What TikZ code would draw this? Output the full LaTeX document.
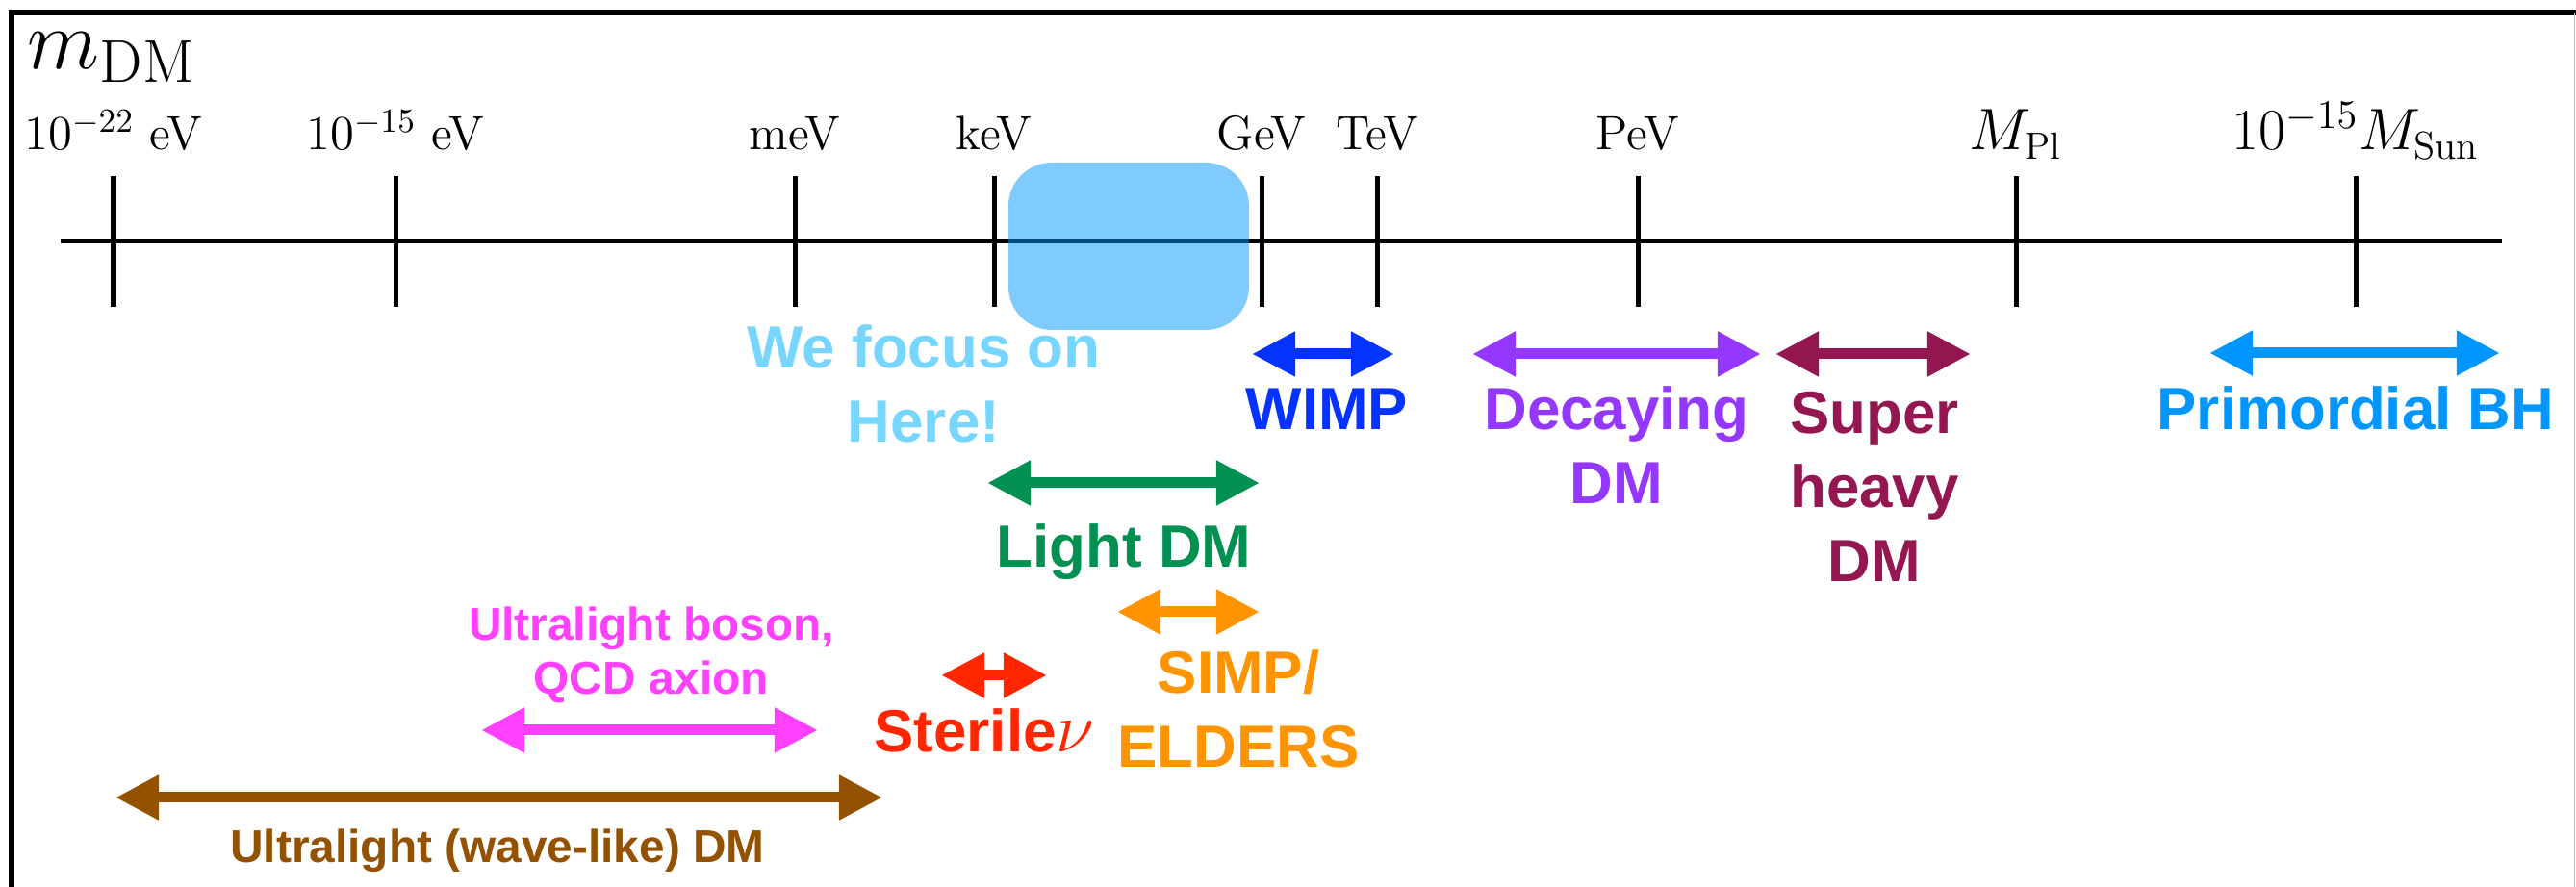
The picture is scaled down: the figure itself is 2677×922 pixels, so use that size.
\documentclass[tikz,border=0pt]{standalone}
\usepackage{fontspec}
\newfontfamily\lblfont{Liberation Sans}
\usetikzlibrary{arrows.meta}

\definecolor{skycol}{HTML}{76D6FF}
\definecolor{aquacol}{HTML}{0096FF}
\definecolor{wimpcol}{HTML}{0433FF}
\definecolor{decaycol}{HTML}{9437FF}
\definecolor{heavycol}{HTML}{941751}
\definecolor{lightcol}{HTML}{009051}
\definecolor{simpcol}{HTML}{FF9300}
\definecolor{sterilecol}{HTML}{FF2600}
\definecolor{bosoncol}{HTML}{FF40FF}
\definecolor{wavecol}{HTML}{945200}

\tikzset{
  masstick/.style={line width=0.05cm},
  dmrange/.style={line width=0.11cm,
    {Triangle[length=0.45cm,width=0.44cm]}-{Triangle[length=0.45cm,width=0.44cm]}},
  ticklabel/.style={anchor=base, inner sep=0pt, font=\fontsize{14.2}{17}\selectfont},
  biglabel/.style={anchor=base, inner sep=0pt, align=center,
    font=\lblfont\bfseries\fontsize{17.6}{21.9}\selectfont},
  smalllabel/.style={anchor=base, inner sep=0pt, align=center,
    font=\lblfont\bfseries\fontsize{13.6}{16.2}\selectfont}
}

\begin{document}
\begin{tikzpicture}[x=0.01cm, y=-0.01cm]
    \useasboundingbox (0,0) rectangle (2677,922);

    % frame
    \draw[line width=0.06cm] (12,922) -- (12,13) -- (2677,13);
    \draw[black!25, line width=0.01cm] (2675,13) -- (2675,922);

    \node[anchor=base west, inner sep=0pt, font=\fontsize{25.5}{30}\selectfont] (mdm) at (28,72) {$m_{\mathrm{DM}}$};

    % mass axis
    \coordinate (axL) at (63,251);
    \coordinate (axR) at (2600,251);
    \draw[line width=0.05cm] (axL) -- (axR);
    \foreach \nm/\x/\lab in {t1/118/{$10^{-22}$ eV}, t2/411/{$10^{-15}$ eV}, t3/826/meV,
        t4/1033/keV, t5/1311/GeV, t6/1431/TeV, t7/1702/PeV,
        t8/2095/{\fontsize{16}{19}\selectfont$M_{\mathrm{Pl}}$},
        t9/2448/{\fontsize{16.5}{19}\selectfont$10^{-15}M_{\mathrm{Sun}}$}} {
        \draw[masstick] (\x,183) -- (\x,319);
        \node[ticklabel] (\nm) at (\x,156) {\lab};
    }

    \fill[aquacol, fill opacity=0.5, rounded corners=0.45cm] (1048,169) rectangle (1298,343);
    \node[biglabel, text=skycol] (focus) at (960,460) {We focus on\\Here!};

    % ranges
    \coordinate (wimpL) at (1301,368);   \coordinate (wimpR) at (1449,368);
    \coordinate (decayL) at (1530,368);  \coordinate (decayR) at (1830,368);
    \coordinate (heavyL) at (1845,368);  \coordinate (heavyR) at (2048,368);
    \coordinate (pbhL) at (2296,367);    \coordinate (pbhR) at (2598,367);
    \coordinate (lightL) at (1026,502);  \coordinate (lightR) at (1309,502);
    \coordinate (simpL) at (1161,636);   \coordinate (simpR) at (1309,636);
    \coordinate (sterileL) at (978,702); \coordinate (sterileR) at (1088,702);
    \coordinate (bosonL) at (500,759);   \coordinate (bosonR) at (850,759);
    \coordinate (waveL) at (120,829);    \coordinate (waveR) at (917,829);

    \draw[dmrange, wimpcol] (wimpL) -- (wimpR);
    \draw[dmrange, decaycol] (decayL) -- (decayR);
    \draw[dmrange, heavycol] (heavyL) -- (heavyR);
    \draw[dmrange, aquacol] (pbhL) -- (pbhR);
    \draw[dmrange, lightcol] (lightL) -- (lightR);
    \draw[dmrange, simpcol] (simpL) -- (simpR);
    \draw[dmrange, sterilecol] (sterileL) -- (sterileR);
    \draw[dmrange, bosoncol] (bosonL) -- (bosonR);
    \draw[dmrange, wavecol] (waveL) -- (waveR);

    \node[biglabel, text=wimpcol] (wimp) at (1379,447) {WIMP};
    \node[biglabel, text=decaycol] (decay) at (1680,524) {Decaying\\DM};
    \node[biglabel, text=heavycol] (heavy) at (1948,605) {Super\\heavy\\DM};
    \node[biglabel, text=aquacol] (pbh) at (2448,447) {Primordial BH};
    \node[biglabel, text=lightcol] (light) at (1168,590) {Light DM};
    \node[biglabel, text=simpcol] (simp) at (1287,798) {SIMP/\\ELDERS};
    \node[biglabel, text=sterilecol] (sterile) at (1023,782) {Sterile{\fontsize{22}{26}\selectfont$\nu$}};
    \node[smalllabel, text=bosoncol] (boson) at (677,722) {Ultralight boson,\\QCD axion};
    \node[smalllabel, text=wavecol] (wave) at (517,897) {Ultralight (wave-like) DM};
\end{tikzpicture}
\end{document}
